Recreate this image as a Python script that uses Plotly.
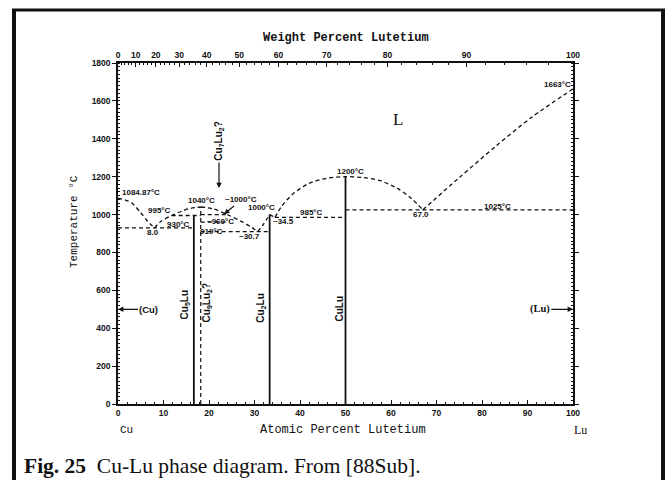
import plotly.graph_objects as go

# ---------------------------------------------------------------
# Cu-Lu phase diagram
# ---------------------------------------------------------------
W, H = 667, 480
PX_L, PX_R, PX_T, PX_B = 118, 573, 63, 404   # plot-area edges in pixels

# atomic masses used for the weight-percent scale on top
M_CU, M_LU = 63.546, 174.967

# ---- liquidus segments (at.% Lu, temperature °C) ----
liq1_x = [0, 1.5, 3, 5, 6.5, 8.0]
liq1_t = [1084.87, 1078, 1062, 1010, 965, 930]

liq2_x = [8.0, 9.5, 11.8, 14, 16, 18.2]
liq2_t = [930, 965, 995, 1018, 1033, 1040]

liq3_x = [18.2, 21, 24, 27, 29.2, 30.7]
liq3_t = [1040, 1030, 1000, 965, 935, 910]

liq4_x = [30.7, 32, 33.3]
liq4_t = [910, 950, 1000]

liq5_x = [33.3, 34.5]
liq5_t = [1000, 985]

liq6_x = [34.5, 36, 38.5, 42, 46, 50, 54, 57.5, 61.3, 64.5, 67.0]
liq6_t = [985, 1045, 1110, 1165, 1192, 1200, 1195, 1180, 1140, 1085, 1025]

liq7_x = [67.0, 75, 83, 91, 100]
liq7_t = [1025, 1195, 1360, 1515, 1663]

# ---- invariant (horizontal) lines: x start, x end, temperature ----
inv_x0 = [0, 11.8, 18.18, 18.18, 18.18, 34.5, 50]
inv_x1 = [16.67, 18.18, 24.0, 24.2, 33.33, 50, 100]
inv_t = [930, 995, 1000, 960, 910, 985, 1025]

# ---- compounds: composition, top temperature, solid/dashed ----
cmp_x = [16.67, 18.18, 33.33, 50.0]
cmp_t = [995, 1040, 1000, 1200]
cmp_dash = [False, True, False, False]
cmp_names = ["Cu<sub>5</sub>Lu", "Cu<sub>9</sub>Lu<sub>2</sub>?",
             "Cu<sub>2</sub>Lu", "CuLu"]
cmp_lab_x = [14.7, 19.5, 31.5, 48.6]
cmp_lab_t = [525, 535, 505, 505]

# ---- point labels ----
lab_text = ["1084.87°C", "995°C", "930°C", "8.0", "1040°C", "~960°C",
            "910°C", "~30.7", "1000°C", "~34.5", "985°C", "1200°C",
            "67.0", "1025°C", "1663°C"]
lab_x = [0.4, 9.2, 13.2, 7.7, 18.4, 22.6, 20.5, 29.0, 31.5, 36.3, 42.5,
         51.2, 66.6, 83.4, 96.5]
lab_t = [1114, 1019, 950, 903, 1072, 966, 908, 882, 1035, 961, 1013,
         1225, 998, 1045, 1689]
lab_anchor = ["left"] + ["center"] * 14

# axis ticks
y_ticks = [0, 200, 400, 600, 800, 1000, 1200, 1400, 1600, 1800]
x_ticks = [0, 10, 20, 30, 40, 50, 60, 70, 80, 90, 100]
wt_ticks = [0, 10, 20, 30, 40, 50, 60, 70, 80, 90, 100]


def wt_to_at(w):
    """weight-percent Lu -> atomic-percent Lu"""
    if w <= 0:
        return 0.0
    if w >= 100:
        return 100.0
    a = w / M_LU
    b = (100.0 - w) / M_CU
    return 100.0 * a / (a + b)


def px_x(px):
    return (px - PX_L) / (PX_R - PX_L)


def px_y(py):
    return (PX_B - py) / (PX_B - PX_T)


BLACK = "#111111"
DASH = "4px,3px"
LAB_FONT = dict(family="Liberation Sans", size=8, color=BLACK, weight="bold")
PHASE_FONT = dict(family="Liberation Sans", size=10, color=BLACK,
                  weight="bold")

fig = go.Figure()

# liquidus curves
for xs, ts in [(liq1_x, liq1_t), (liq2_x, liq2_t), (liq3_x, liq3_t),
               (liq4_x, liq4_t), (liq5_x, liq5_t), (liq6_x, liq6_t),
               (liq7_x, liq7_t)]:
    fig.add_trace(go.Scatter(x=xs, y=ts, mode="lines",
                             line=dict(color=BLACK, width=1.3, dash=DASH,
                                       shape="spline", smoothing=0.8),
                             hoverinfo="skip", showlegend=False))

# invariant lines
for x0, x1, t in zip(inv_x0, inv_x1, inv_t):
    fig.add_trace(go.Scatter(x=[x0, x1], y=[t, t], mode="lines",
                             line=dict(color=BLACK, width=1.3, dash=DASH),
                             hoverinfo="skip", showlegend=False))

# compound lines
for cx, ct, dashed in zip(cmp_x, cmp_t, cmp_dash):
    fig.add_trace(go.Scatter(x=[cx, cx], y=[0, ct], mode="lines",
                             line=dict(color=BLACK, width=1.2 if dashed else 1.8,
                                       dash=DASH if dashed else "solid"),
                             hoverinfo="skip", showlegend=False))

# trace that carries the weight-percent axis
fig.add_trace(go.Scatter(x=[0, 100], y=[0, 0], xaxis="x2", mode="lines",
                         line=dict(width=0), hoverinfo="skip",
                         showlegend=False))

ARROW = dict(showarrow=True, arrowhead=2, arrowsize=0.9, arrowwidth=1.2,
             arrowcolor=BLACK, standoff=0, axref="x", ayref="y")

ann = []
for t, x, y, anc in zip(lab_text, lab_x, lab_t, lab_anchor):
    ann.append(dict(x=x, y=y, xref="x", yref="y", text=t, showarrow=False,
                    xanchor=anc, yanchor="middle", font=LAB_FONT))

for name, x, y in zip(cmp_names, cmp_lab_x, cmp_lab_t):
    ann.append(dict(x=x, y=y, xref="x", yref="y", text=name, showarrow=False,
                    textangle=-90, xanchor="center", yanchor="middle",
                    font=PHASE_FONT))

# (Cu), (Lu) terminal solid solutions
ann.append(dict(x=0, y=500, xref="x", yref="y", ax=6.8, ay=500,
                text="(Cu)", **ARROW,
                font=dict(family="Liberation Sans", size=9.5, color=BLACK,
                          weight="bold")))
ann.append(dict(x=100, y=500, xref="x", yref="y", ax=92.7, ay=500,
                text="(Lu)", **ARROW,
                font=dict(family="Liberation Serif", size=10.5, color=BLACK,
                          weight="bold")))

# ~1000 °C pointer
ann.append(dict(x=23.3, y=1002, xref="x", yref="y", ax=27.1, ay=1077,
                text="~1000°C", **ARROW, font=LAB_FONT))

# Cu7Lu2? pointer
ann.append(dict(x=22.2, y=1140, xref="x", yref="y", ax=22.2, ay=1385,
                text="Cu<sub>7</sub>Lu<sub>2</sub>?", textangle=-90,
                **ARROW, font=PHASE_FONT))

# liquid region
ann.append(dict(x=61.5, y=1500, xref="x", yref="y", text="L", showarrow=False,
                xanchor="center", yanchor="middle",
                font=dict(family="Liberation Serif", size=17, color=BLACK)))


def page_text(px, py, text, font, anchor="center", angle=0):
    return dict(x=px_x(px), y=px_y(py), xref="paper", yref="paper",
                text=text, showarrow=False, xanchor=anchor,
                yanchor="middle", textangle=angle, font=font)


# axis titles
MONO = "Liberation Mono"
ann.append(page_text(346, 38, "Weight Percent Lutetium",
                     dict(family=MONO, size=12, color=BLACK, weight="bold")))
ann.append(page_text(343, 430, "Atomic Percent Lutetium",
                     dict(family=MONO, size=12, color=BLACK)))
ann.append(page_text(118, 430, "Cu", dict(family=MONO, size=11, color=BLACK),
                     anchor="left"))
ann.append(page_text(580, 430, "Lu",
                     dict(family="Liberation Serif", size=12, color=BLACK)))
ann.append(page_text(74, 222, "Temperature °C",
                     dict(family=MONO, size=11, color=BLACK), angle=-90))

# caption
ann.append(page_text(22, 466,
                     "<b>Fig. 25</b>  Cu-Lu phase diagram. From [88Sub].",
                     dict(family="Liberation Serif", size=21.5, color=BLACK),
                     anchor="left"))

# page frame
frame = [
    dict(x0=px_x(14), x1=px_x(14), y0=px_y(10), y1=px_y(482), w=4),
    dict(x0=px_x(12), x1=px_x(665), y0=px_y(10), y1=px_y(10), w=3),
    dict(x0=px_x(663), x1=px_x(663), y0=px_y(10), y1=px_y(482), w=4),
]
shapes = [dict(type="line", xref="paper", yref="paper", x0=f["x0"],
               x1=f["x1"], y0=f["y0"], y1=f["y1"],
               line=dict(color=BLACK, width=f["w"])) for f in frame]

TICK_FONT = dict(family="Liberation Sans", size=8.5, color=BLACK,
                 weight="bold")

fig.update_layout(
    width=W, height=H,
    margin=dict(l=PX_L, r=W - PX_R, t=PX_T, b=H - PX_B, pad=0),
    paper_bgcolor="white", plot_bgcolor="white",
    annotations=ann, shapes=shapes,
    xaxis=dict(range=[0, 100], tickvals=x_ticks,
               ticktext=[str(v) for v in x_ticks],
               showgrid=False, zeroline=False, showline=True,
               linecolor=BLACK, linewidth=1.5, ticks="inside", ticklen=4,
               tickwidth=1.2, tickcolor=BLACK, tickfont=TICK_FONT,
               minor=dict(dtick=2, ticks="inside", ticklen=2,
                          tickcolor=BLACK, tickwidth=1)),
    xaxis2=dict(range=[0, 100], overlaying="x", side="top",
                tickmode="array",
                tickvals=[wt_to_at(w) for w in wt_ticks],
                ticktext=[str(w) for w in wt_ticks],
                showgrid=False, zeroline=False, showline=True,
                linecolor=BLACK, linewidth=1.5, ticks="inside", ticklen=4,
                tickwidth=1.2, tickcolor=BLACK, tickfont=TICK_FONT,
                minor=dict(tickmode="array",
                           tickvals=[wt_to_at(w) for w in range(0, 101, 2)],
                           ticks="inside", ticklen=2, tickcolor=BLACK,
                           tickwidth=1)),
    yaxis=dict(range=[0, 1800], tickvals=y_ticks,
               ticktext=[str(v) for v in y_ticks],
               showgrid=False, zeroline=False, showline=True, mirror="ticks",
               linecolor=BLACK, linewidth=1.5, ticks="outside", ticklen=4,
               tickwidth=1.2, tickcolor=BLACK, tickfont=TICK_FONT,
               minor=dict(dtick=20, ticks="inside", ticklen=2,
                          tickcolor=BLACK, tickwidth=1)),
)

fig.write_html("out.html")
